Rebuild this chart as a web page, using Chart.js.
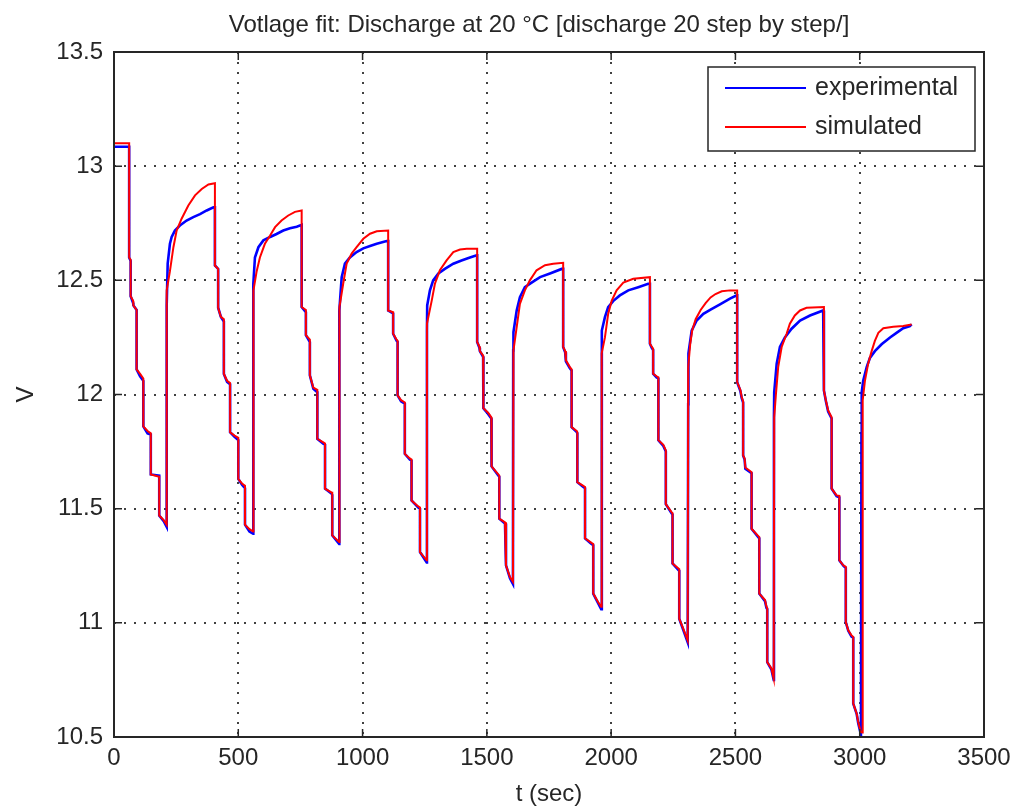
<!DOCTYPE html>
<html>
<head>
<meta charset="utf-8">
<script src="https://cdn.jsdelivr.net/npm/chart.js@4.4.1/dist/chart.umd.min.js"></script>
<style>
  html, body { margin: 0; padding: 0; background: #fff; }
  #wrap { width: 1015px; height: 810px; }
</style>
</head>
<body>
<div id="wrap"><canvas id="voltage-fit" width="1015" height="810"></canvas></div>
<script>
// values: [t (sec), V]
const experimental = [
  [0, 13.085], [61, 13.085],
  [61, 12.60], [67, 12.585], [67, 12.43], [77, 12.40], [78, 12.39], [91, 12.37], [91, 12.11], [105, 12.08], [118, 12.06], [118, 11.86], [135, 11.83], [148, 11.825], [148, 11.65], [182, 11.645], [182, 11.47], [200, 11.445], [212, 11.42],
  [212, 12.39], [216, 12.573], [225, 12.66], [232, 12.69], [245, 12.718], [265, 12.74], [292, 12.762], [319, 12.777], [346, 12.79], [373, 12.806], [400, 12.82], [406, 12.82],
  [406, 12.565], [419, 12.55], [419, 12.38], [430, 12.34], [442, 12.32], [442, 12.09], [455, 12.055], [467, 12.045], [467, 11.835], [485, 11.815], [500, 11.80], [500, 11.63], [515, 11.605], [527, 11.59], [527, 11.43], [545, 11.40], [560, 11.39],
  [560, 12.40], [561, 12.485], [567, 12.60], [581, 12.645], [601, 12.675], [628, 12.69], [654, 12.703], [681, 12.718], [708, 12.728], [735, 12.735], [755, 12.743],
  [755, 12.383], [772, 12.36], [772, 12.26], [788, 12.23], [788, 12.084], [802, 12.025], [818, 12.01], [818, 11.806], [842, 11.785], [849, 11.78], [849, 11.588], [876, 11.565], [878, 11.56], [878, 11.383], [906, 11.345],
  [906, 12.30], [907, 12.368], [916, 12.514], [929, 12.573], [949, 12.60], [976, 12.624], [1003, 12.64], [1030, 12.65], [1057, 12.66], [1097, 12.672], [1103, 12.672],
  [1103, 12.368], [1123, 12.355], [1123, 12.266], [1137, 12.235], [1141, 12.23], [1141, 11.996], [1155, 11.97], [1170, 11.96], [1170, 11.74], [1190, 11.715], [1197, 11.71], [1197, 11.536], [1224, 11.505], [1231, 11.50], [1231, 11.31], [1258, 11.265],
  [1259, 12.28], [1260, 12.39], [1271, 12.456], [1284, 12.50], [1305, 12.53], [1331, 12.55], [1365, 12.573], [1398, 12.587], [1432, 12.60], [1459, 12.61], [1461, 12.61],
  [1461, 12.23], [1470, 12.205], [1472, 12.19], [1485, 12.165], [1486, 11.94], [1505, 11.915], [1518, 11.895], [1519, 11.685], [1546, 11.645], [1550, 11.64], [1550, 11.456], [1573, 11.435], [1577, 11.43], [1577, 11.252], [1593, 11.195], [1605, 11.17],
  [1606, 12.193], [1607, 12.273], [1620, 12.368], [1633, 12.426], [1653, 12.47], [1680, 12.49], [1714, 12.514], [1754, 12.53], [1801, 12.55], [1807, 12.55],
  [1807, 12.208], [1815, 12.185], [1818, 12.145], [1834, 12.115], [1841, 12.105], [1841, 11.857], [1862, 11.835], [1864, 11.83], [1864, 11.616], [1888, 11.595], [1895, 11.59], [1895, 11.37], [1921, 11.345], [1928, 11.34], [1928, 11.128], [1948, 11.085], [1960, 11.06],
  [1962, 12.164], [1963, 12.28], [1975, 12.339], [1988, 12.383], [2009, 12.41], [2035, 12.434], [2069, 12.456], [2109, 12.47], [2149, 12.485], [2156, 12.485],
  [2156, 12.222], [2163, 12.205], [2169, 12.195], [2169, 12.091], [2183, 12.075], [2190, 12.07], [2190, 11.80], [2210, 11.775], [2220, 11.75], [2220, 11.52], [2243, 11.48], [2247, 11.475], [2247, 11.26], [2272, 11.23], [2274, 11.228], [2274, 11.018], [2290, 10.97], [2308, 10.915],
  [2310, 11.957], [2311, 12.18], [2324, 12.28], [2344, 12.324], [2371, 12.353], [2400, 12.372], [2438, 12.395], [2478, 12.42], [2505, 12.434], [2507, 12.434],
  [2507, 12.054], [2520, 12.015], [2525, 11.985], [2531, 11.965], [2531, 11.733], [2537, 11.715], [2540, 11.675], [2565, 11.655], [2565, 11.412], [2592, 11.375], [2596, 11.37], [2596, 11.128], [2619, 11.095], [2625, 11.065], [2628, 11.06], [2628, 10.828], [2645, 10.795], [2654, 10.75],
  [2655, 11.908], [2656, 12.01], [2666, 12.135], [2679, 12.208], [2699, 12.25], [2726, 12.288], [2760, 12.324], [2800, 12.346], [2853, 12.368], [2856, 12.368],
  [2856, 12.018], [2864, 11.97], [2873, 11.925], [2887, 11.895], [2887, 11.588], [2907, 11.555], [2918, 11.55], [2918, 11.274], [2934, 11.25], [2944, 11.24], [2944, 11.003], [2954, 10.965], [2967, 10.94], [2974, 10.935], [2974, 10.646], [2988, 10.60], [2994, 10.56], [3005, 10.51],
  [3007, 11.83], [3008, 12.01], [3014, 12.06], [3028, 12.12], [3041, 12.16], [3061, 12.19], [3088, 12.22], [3122, 12.25], [3148, 12.27], [3175, 12.29], [3202, 12.30], [3209, 12.307]
];

const simulated = [
  [0, 13.10], [61, 13.10],
  [61, 12.60], [67, 12.59], [67, 12.43], [77, 12.41], [78, 12.39], [91, 12.37], [91, 12.11], [105, 12.09], [118, 12.07], [118, 11.86], [135, 11.84], [148, 11.83], [148, 11.65], [182, 11.64], [182, 11.47], [200, 11.45], [212, 11.43],
  [212, 12.456], [225, 12.54], [239, 12.645], [252, 12.718], [272, 12.77], [299, 12.828], [326, 12.872], [353, 12.90], [380, 12.92], [406, 12.925],
  [406, 12.565], [419, 12.55], [419, 12.38], [430, 12.34], [442, 12.33], [442, 12.09], [455, 12.06], [467, 12.05], [467, 11.835], [485, 11.82], [500, 11.81], [500, 11.63], [515, 11.61], [527, 11.60], [527, 11.43], [545, 11.41], [560, 11.40],
  [561, 12.456], [574, 12.54], [587, 12.60], [607, 12.66], [628, 12.696], [648, 12.733], [674, 12.762], [701, 12.784], [728, 12.80], [755, 12.806],
  [755, 12.383], [772, 12.37], [772, 12.26], [788, 12.24], [788, 12.084], [802, 12.03], [818, 12.02], [818, 11.806], [842, 11.79], [849, 11.785], [849, 11.588], [876, 11.57], [878, 11.57], [878, 11.383], [906, 11.354],
  [907, 12.383], [922, 12.485], [936, 12.573], [956, 12.617], [976, 12.645], [1003, 12.682], [1030, 12.704], [1057, 12.715], [1103, 12.718],
  [1103, 12.368], [1123, 12.36], [1123, 12.266], [1137, 12.24], [1141, 12.235], [1141, 11.996], [1155, 11.975], [1170, 11.965], [1170, 11.74], [1190, 11.72], [1197, 11.715], [1197, 11.536], [1224, 11.51], [1231, 11.505], [1231, 11.31], [1258, 11.274],
  [1259, 12.31], [1278, 12.41], [1291, 12.485], [1311, 12.544], [1338, 12.587], [1365, 12.624], [1392, 12.635], [1419, 12.638], [1461, 12.638],
  [1461, 12.23], [1470, 12.21], [1472, 12.19], [1485, 12.17], [1486, 11.94], [1505, 11.92], [1518, 11.90], [1519, 11.685], [1546, 11.65], [1550, 11.645], [1550, 11.456], [1573, 11.44], [1577, 11.435], [1577, 11.252], [1593, 11.20], [1605, 11.18],
  [1607, 12.193], [1620, 12.295], [1633, 12.397], [1653, 12.456], [1673, 12.50], [1700, 12.544], [1734, 12.566], [1767, 12.573], [1807, 12.577],
  [1807, 12.208], [1815, 12.19], [1818, 12.15], [1834, 12.12], [1841, 12.11], [1841, 11.857], [1862, 11.84], [1864, 11.835], [1864, 11.616], [1888, 11.60], [1895, 11.595], [1895, 11.37], [1921, 11.35], [1928, 11.345], [1928, 11.128], [1948, 11.09], [1960, 11.07],
  [1962, 12.18], [1975, 12.25], [1988, 12.353], [2002, 12.41], [2022, 12.456], [2049, 12.49], [2089, 12.507], [2156, 12.514],
  [2156, 12.222], [2163, 12.21], [2169, 12.20], [2169, 12.091], [2183, 12.08], [2190, 12.075], [2190, 11.80], [2210, 11.78], [2220, 11.755], [2220, 11.52], [2243, 11.485], [2247, 11.48], [2247, 11.26], [2272, 11.237], [2274, 11.235], [2274, 11.018], [2290, 10.975], [2308, 10.923],
  [2310, 12.12], [2318, 12.22], [2326, 12.28], [2340, 12.33], [2360, 12.37], [2380, 12.40], [2400, 12.425], [2420, 12.44], [2445, 12.452], [2478, 12.456], [2507, 12.456],
  [2507, 12.054], [2520, 12.02], [2525, 11.99], [2531, 11.97], [2531, 11.733], [2537, 11.72], [2540, 11.68], [2565, 11.66], [2565, 11.412], [2592, 11.38], [2596, 11.375], [2596, 11.128], [2619, 11.10], [2625, 11.07], [2628, 11.065], [2628, 10.828], [2645, 10.80], [2654, 10.756],
  [2656, 11.90], [2663, 12.003], [2672, 12.12], [2686, 12.208], [2706, 12.266], [2719, 12.31], [2739, 12.346], [2760, 12.368], [2786, 12.38], [2856, 12.383],
  [2856, 12.018], [2864, 11.974], [2873, 11.93], [2887, 11.90], [2887, 11.588], [2907, 11.558], [2918, 11.556], [2918, 11.274], [2934, 11.252], [2944, 11.245], [2944, 11.003], [2954, 10.967], [2967, 10.945], [2974, 10.938], [2974, 10.646], [2988, 10.602], [2994, 10.566], [3004, 10.522],
  [3010, 10.52], [3012, 11.974], [3021, 12.06], [3034, 12.135], [3048, 12.19], [3061, 12.235], [3075, 12.27], [3095, 12.29], [3135, 12.297], [3175, 12.30], [3209, 12.307]
];

const seriesNames = ['experimental', 'simulated'];
const seriesColours = ['#0000ff', '#ff0000'];
const xTicks = [0, 500, 1000, 1500, 2000, 2500, 3000, 3500];
const yTicks = [10.5, 11, 11.5, 12, 12.5, 13, 13.5];
const chartTitle = 'Votlage fit: Discharge at 20 °C [discharge 20 step by step/]';

const fontFamily = "'Liberation Sans', Arial, sans-serif";
const axisColour = '#262626';

// matlab style box, inward ticks, title and legend
const matlabFrame = {
    id: 'matlabFrame',
    afterDatasetsDraw(chart) {
        const { ctx, chartArea: a, scales } = chart;
        const tickLen = 8;
        ctx.save();
        ctx.strokeStyle = axisColour;
        ctx.lineWidth = 1.5;
        ctx.beginPath();
        scales.x.ticks.forEach(t => {
            const px = scales.x.getPixelForValue(t.value);
            ctx.moveTo(px, a.bottom); ctx.lineTo(px, a.bottom - tickLen);
            ctx.moveTo(px, a.top); ctx.lineTo(px, a.top + tickLen);
        });
        scales.y.ticks.forEach(t => {
            const py = scales.y.getPixelForValue(t.value);
            ctx.moveTo(a.left, py); ctx.lineTo(a.left + tickLen, py);
            ctx.moveTo(a.right, py); ctx.lineTo(a.right - tickLen, py);
        });
        ctx.stroke();
        ctx.lineWidth = 2;
        ctx.strokeRect(a.left, a.top, a.right - a.left, a.bottom - a.top);

        // title
        ctx.fillStyle = axisColour;
        ctx.font = '24px ' + fontFamily;
        ctx.textAlign = 'center';
        ctx.textBaseline = 'alphabetic';
        ctx.fillText(chartTitle, 539, 32);

        // legend box
        const lx = 708, ly = 67, lw = 267, lh = 84;
        ctx.font = '25px ' + fontFamily;
        ctx.fillStyle = '#fff';
        ctx.fillRect(lx, ly, lw, lh);
        ctx.lineWidth = 1.5;
        ctx.strokeRect(lx, ly, lw, lh);
        ctx.textAlign = 'left';
        seriesNames.forEach((name, i) => {
            const y = 88 + i * 39;
            ctx.strokeStyle = seriesColours[i];
            ctx.lineWidth = 2;
            ctx.beginPath();
            ctx.moveTo(725, y); ctx.lineTo(806, y);
            ctx.stroke();
            ctx.fillStyle = axisColour;
            ctx.fillText(name, 815, y + 7);
        });
        ctx.restore();
    }
};

const points = arr => arr.map(p => ({ x: p[0], y: p[1] }));

new Chart(document.getElementById('voltage-fit'), {
    type: 'line',
    data: {
        datasets: [{
            label: seriesNames[0],
            data: points(experimental),
            borderColor: seriesColours[0],
            borderWidth: 2.6,
            pointRadius: 0,
            tension: 0,
            fill: false,
            order: 1
        }, {
            label: seriesNames[1],
            data: points(simulated),
            borderColor: seriesColours[1],
            borderWidth: 2,
            pointRadius: 0,
            tension: 0,
            fill: false,
            order: 0
        }]
    },
    options: {
        responsive: false,
        animation: false,
        devicePixelRatio: 1,
        layout: { padding: { top: 52, right: 31, left: 0, bottom: 0 } },
        plugins: {
            legend: { display: false },
            title: { display: false },
            tooltip: { enabled: false }
        },
        scales: {
            x: {
                type: 'linear',
                min: 0,
                max: 3500,
                afterBuildTicks: s => { s.ticks = xTicks.map(v => ({ value: v })); },
                afterFit: s => { s.height = 73; s.paddingLeft = 0; s.paddingRight = 0; },
                ticks: {
                    callback: v => String(v),
                    font: { family: fontFamily, size: 24 },
                    color: axisColour,
                    padding: 7,
                    maxRotation: 0,
                    autoSkip: false
                },
                grid: { color: 'rgba(0,0,0,0.75)', lineWidth: 2, drawTicks: false },
                border: { display: false, dash: [2, 8] },
                title: {
                    display: true,
                    text: 't (sec)',
                    font: { family: fontFamily, size: 24, lineHeight: 1 },
                    color: axisColour,
                    padding: { top: 0, bottom: 4 }
                }
            },
            y: {
                min: 10.5,
                max: 13.5,
                afterBuildTicks: s => { s.ticks = yTicks.map(v => ({ value: v })); },
                afterFit: s => { s.width = 114; s.paddingTop = 0; s.paddingBottom = 0; },
                ticks: {
                    callback: v => String(v),
                    font: { family: fontFamily, size: 24 },
                    color: axisColour,
                    padding: 11
                },
                grid: { color: 'rgba(0,0,0,0.75)', lineWidth: 2, drawTicks: false },
                border: { display: false, dash: [2, 8] },
                title: {
                    display: true,
                    text: 'V',
                    font: { family: fontFamily, size: 24, lineHeight: 1 },
                    color: axisColour,
                    padding: { top: 14, bottom: 0 }
                }
            }
        }
    },
    plugins: [matlabFrame]
});
</script>
</body>
</html>
